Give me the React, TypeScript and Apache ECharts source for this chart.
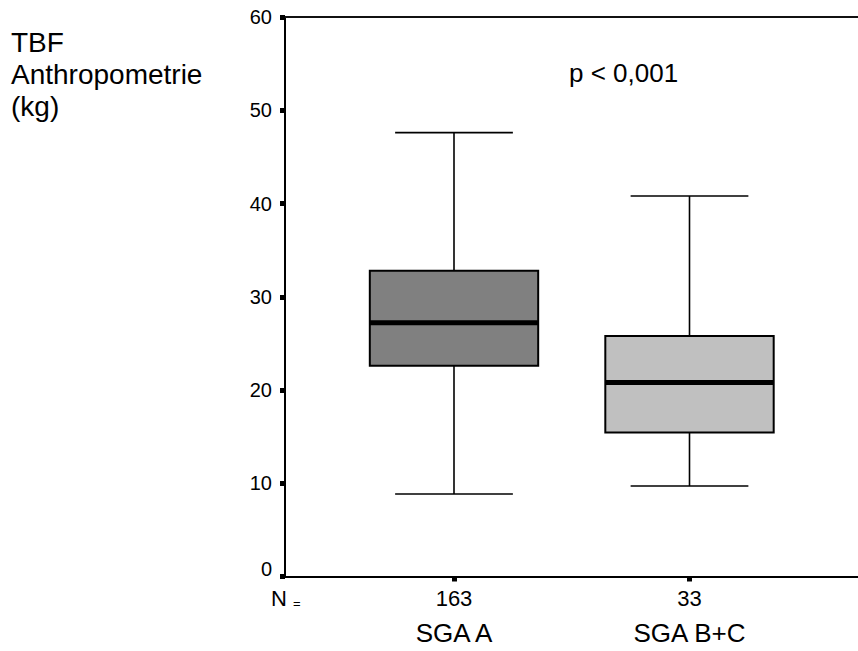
import React, { useEffect, useRef } from "react";
import * as echarts from "echarts";

const categories = ["SGA A", "SGA B+C"];
const counts = [163, 33];
const whiskerLow = [8.85, 9.7];
const quartile1 = [22.6, 15.45];
const medians = [27.2, 20.8];
const quartile3 = [32.8, 25.8];
const whiskerHigh = [47.6, 40.8];
const boxFills = ["#808080", "#c0c0c0"];
const yMin = 0;
const yMax = 60;
const yInterval = 10;
const titleLines = ["TBF", "Anthropometrie", "(kg)"];
const pText = "p < 0,001";

const FONT = "'Liberation Sans', Arial, Helvetica, sans-serif";

export default function App() {
  const ref = useRef<HTMLDivElement>(null);
  useEffect(() => {
    if (!ref.current) return;
    const chart = echarts.init(ref.current, undefined, { renderer: "svg" });
    const data = categories.map((c, i) => ({
      value: [i, whiskerLow[i], quartile1[i], medians[i], quartile3[i], whiskerHigh[i]],
      itemStyle: { color: boxFills[i] },
    }));
    chart.setOption({
      animation: false,
      backgroundColor: "#ffffff",
      textStyle: { fontFamily: FONT },
      grid: [
        { left: 285, right: 0, top: 17, bottom: 74.5 },
        { left: 336.25, right: 50.75, top: 17, bottom: 74.5 },
      ],
      xAxis: [
        {
          type: "value",
          gridIndex: 0,
          position: "bottom",
          min: 0,
          max: 1,
          axisLine: { show: true, lineStyle: { color: "#000", width: 2 } },
          axisTick: { show: false },
          axisLabel: { show: false },
          splitLine: { show: false },
        },
        {
          type: "value",
          gridIndex: 0,
          position: "top",
          min: 0,
          max: 1,
          axisLine: { show: true, onZero: false, lineStyle: { color: "#111", width: 2 } },
          axisTick: { show: false },
          axisLabel: { show: false },
          splitLine: { show: false },
        },
        {
          type: "category",
          gridIndex: 1,
          data: categories,
          boundaryGap: true,
          axisLine: { show: false },
          axisTick: {
            show: true,
            alignWithLabel: true,
            length: 5,
            lineStyle: { color: "#000", width: 5 },
          },
          axisLabel: {
            margin: 8,
            color: "#000",
            verticalAlign: "top",
            formatter: (value: string, index: number) => `{n|${counts[index]}}\n{s|${value}}`,
            rich: {
              n: { fontSize: 22, lineHeight: 27, fontFamily: FONT, color: "#000" },
              s: { fontSize: 26, lineHeight: 42, fontFamily: FONT, color: "#000" },
            },
          },
          splitLine: { show: false },
        },
      ],
      yAxis: [
        {
          type: "value",
          gridIndex: 0,
          min: yMin,
          max: yMax,
          interval: yInterval,
          axisLine: { show: true, lineStyle: { color: "#000", width: 2 } },
          axisTick: { show: true, length: 5, lineStyle: { color: "#000", width: 5 } },
          axisLabel: {
            margin: 13,
            color: "#000",
            fontSize: 20,
            fontFamily: FONT,
            formatter: (v: number) => (v === 0 ? "{z|0}" : String(v)),
            rich: {
              z: { fontSize: 20, fontFamily: FONT, color: "#000", padding: [0, 0, 16, 0] },
            },
          },
          splitLine: { show: false },
        },
        {
          type: "value",
          gridIndex: 1,
          min: yMin,
          max: yMax,
          interval: yInterval,
          show: false,
        },
      ],
      series: [
        {
          type: "custom",
          xAxisIndex: 2,
          yAxisIndex: 1,
          data,
          renderItem: (params: any, api: any) => {
            const x = api.value(0);
            const band = api.size([1, 0])[0];
            const pLow = api.coord([x, api.value(1)]);
            const pQ1 = api.coord([x, api.value(2)]);
            const pMed = api.coord([x, api.value(3)]);
            const pQ3 = api.coord([x, api.value(4)]);
            const pHigh = api.coord([x, api.value(5)]);
            const cx = pLow[0];
            const boxW = band * 0.715;
            const capW = band * 0.5;
            const fill = api.visual("color");
            const thin = { stroke: "#000", lineWidth: 1.6 };
            return {
              type: "group",
              children: [
                { type: "line", shape: { x1: cx, y1: pQ3[1], x2: cx, y2: pHigh[1] }, style: thin },
                { type: "line", shape: { x1: cx, y1: pQ1[1], x2: cx, y2: pLow[1] }, style: thin },
                { type: "line", shape: { x1: cx - capW / 2, y1: pHigh[1], x2: cx + capW / 2, y2: pHigh[1] }, style: thin },
                { type: "line", shape: { x1: cx - capW / 2, y1: pLow[1], x2: cx + capW / 2, y2: pLow[1] }, style: thin },
                {
                  type: "rect",
                  shape: { x: cx - boxW / 2, y: pQ3[1], width: boxW, height: pQ1[1] - pQ3[1] },
                  style: { fill, stroke: "#000", lineWidth: 2 },
                },
                {
                  type: "line",
                  shape: { x1: cx - boxW / 2, y1: pMed[1], x2: cx + boxW / 2, y2: pMed[1] },
                  style: { stroke: "#000", lineWidth: 5 },
                },
              ],
            };
          },
        },
      ],
      graphic: [
        {
          type: "text",
          left: 11,
          top: 26,
          style: {
            text: titleLines.join("\n"),
            fontSize: 28,
            lineHeight: 32,
            fontFamily: FONT,
            fill: "#000",
          },
        },
        {
          type: "text",
          left: 569,
          top: 60,
          style: { text: pText, fontSize: 26, fontFamily: FONT, fill: "#000" },
        },
        {
          type: "text",
          left: 271,
          top: 587,
          style: { text: "N", fontSize: 22, fontFamily: FONT, fill: "#000" },
        },
        {
          type: "text",
          left: 293,
          top: 597,
          style: { text: "=", fontSize: 13, fontFamily: FONT, fill: "#000" },
        },
      ],
    });
    return () => chart.dispose();
  }, []);
  return (
    <div
      ref={ref}
      style={{ position: "absolute", left: 0, top: 0, width: 858, height: 651 }}
    />
  );
}
